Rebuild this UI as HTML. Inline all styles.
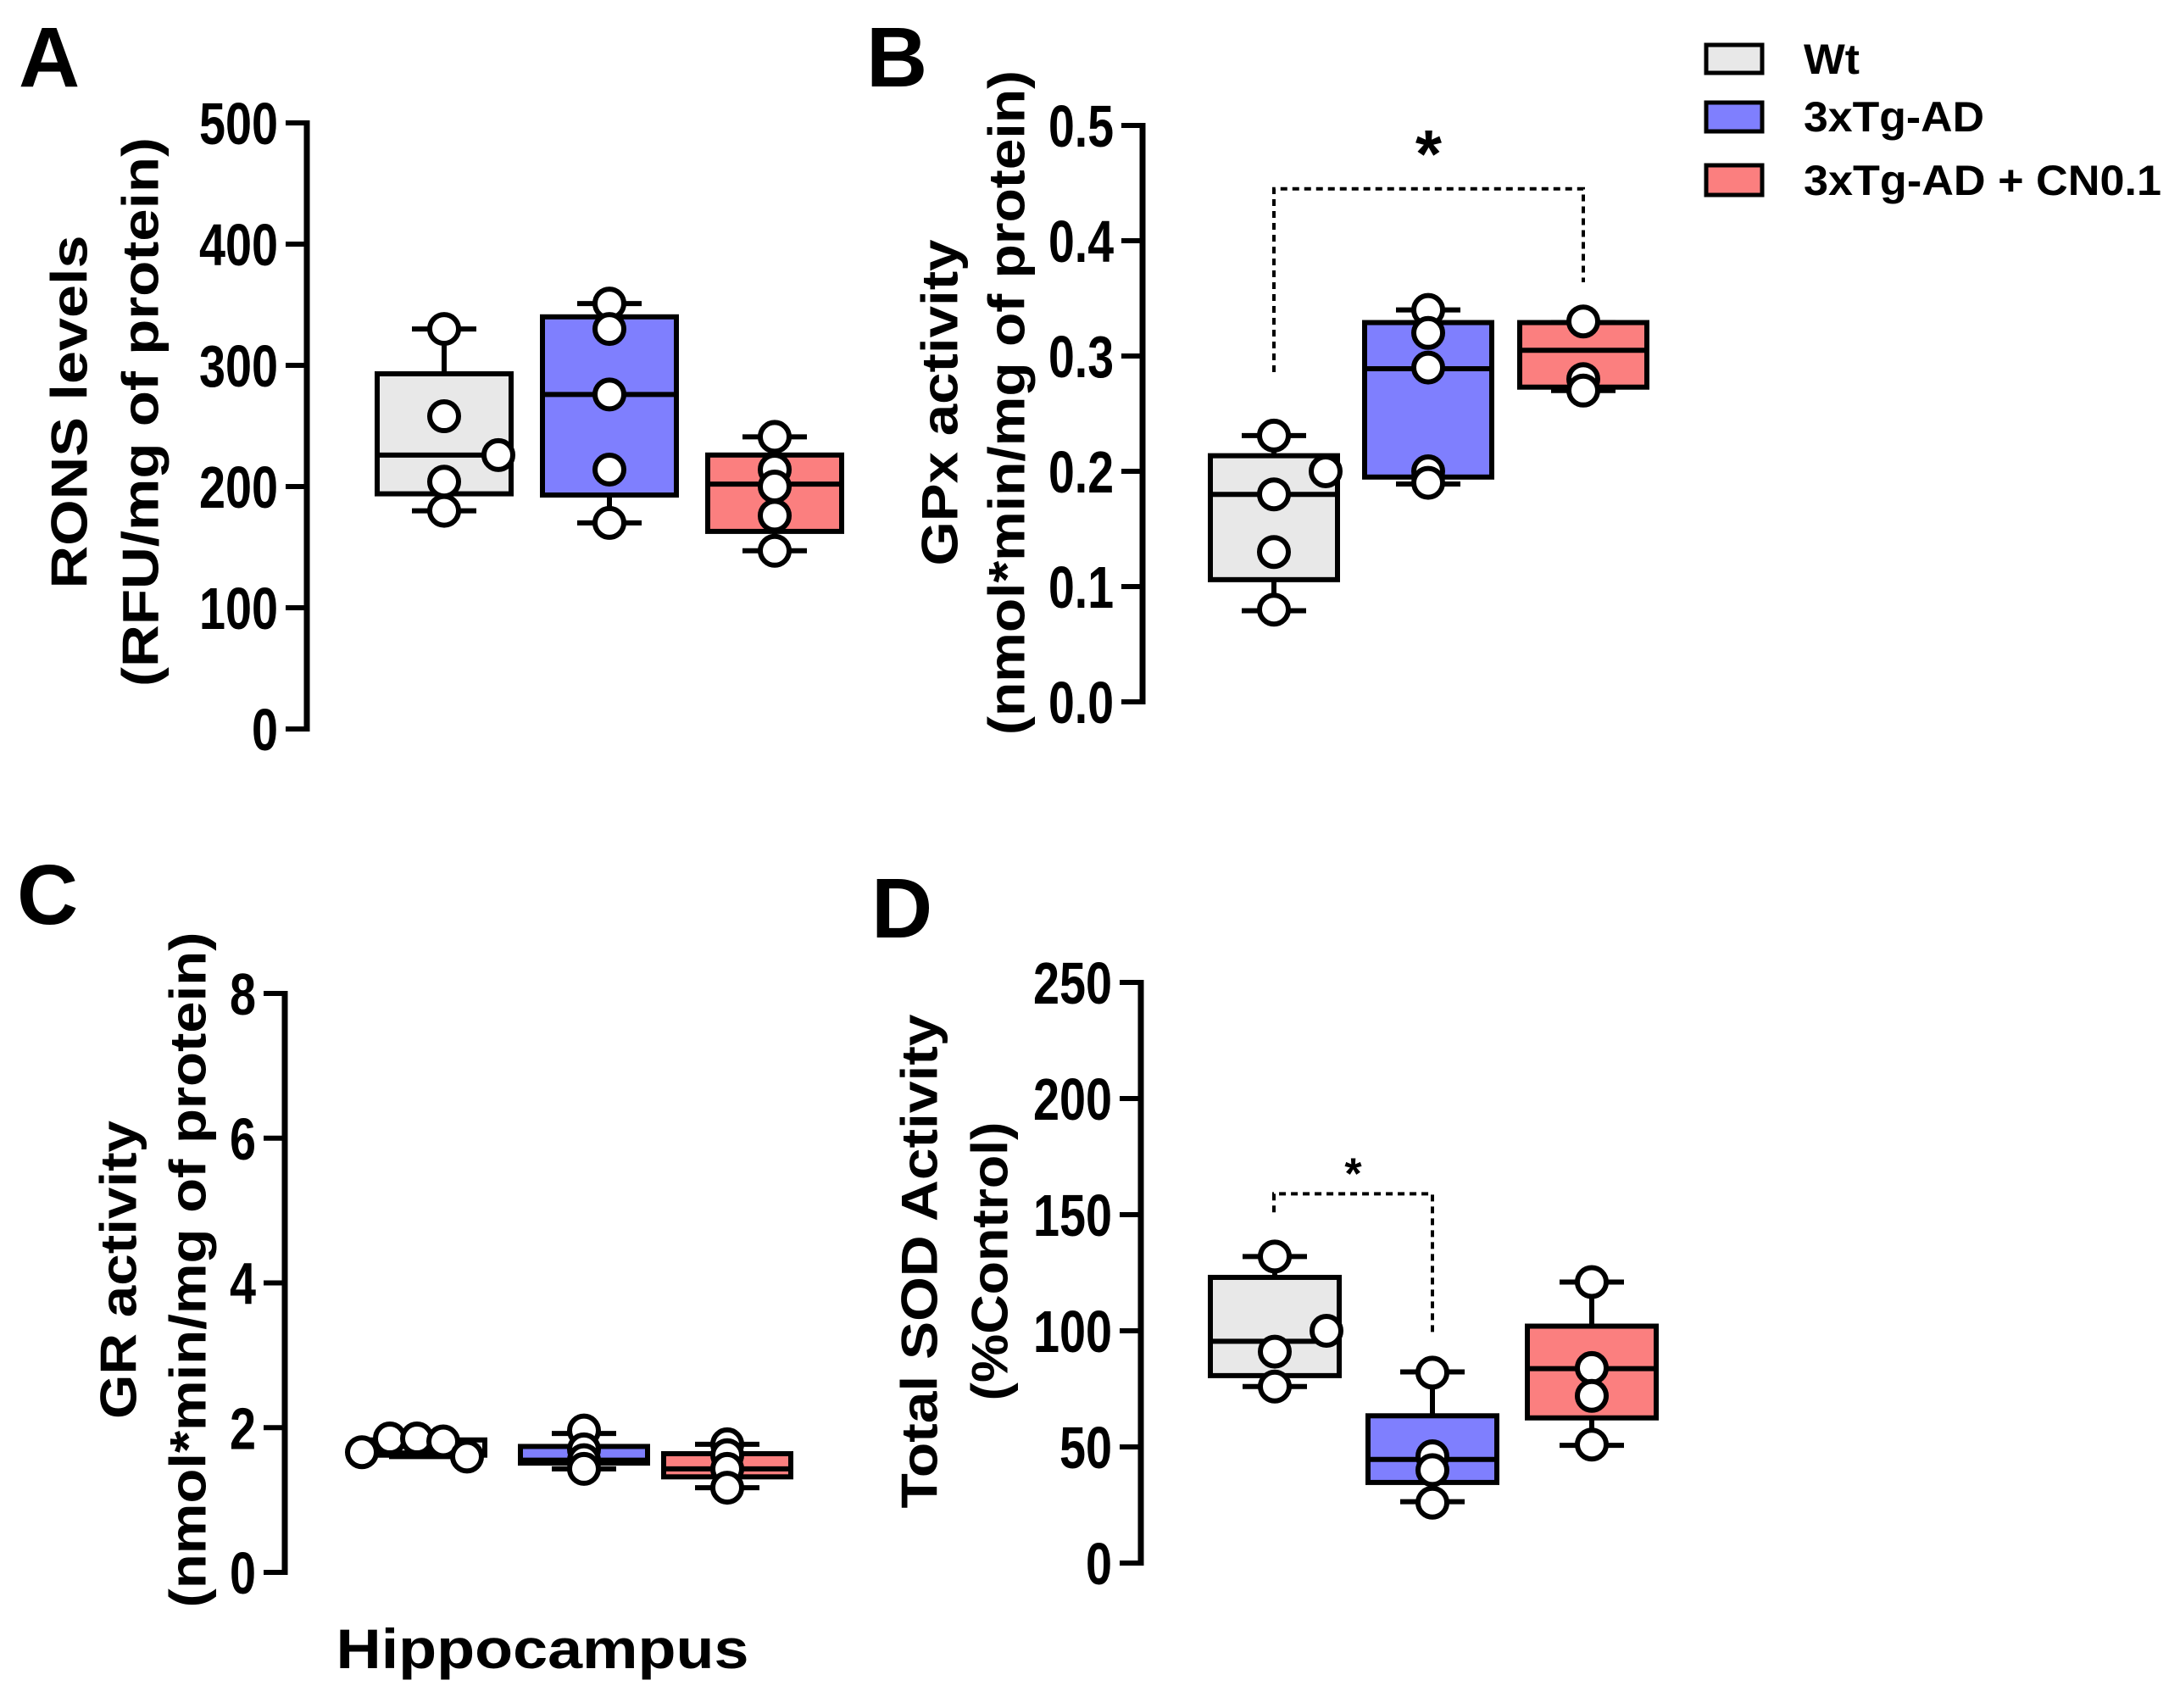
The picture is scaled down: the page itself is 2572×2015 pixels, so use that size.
<!DOCTYPE html>
<html><head><meta charset="utf-8"><style>
html,body{margin:0;padding:0;background:#fff;}
svg{display:block;font-family:"Liberation Sans",Arial,sans-serif;font-weight:bold;}
</style></head><body>
<svg id="fig" width="2572" height="2015" viewBox="0 0 2572 2015" xmlns="http://www.w3.org/2000/svg">
<rect width="2572" height="2015" fill="#fff"/>
<text x="22" y="102" font-size="100">A</text>
<text x="1022" y="102" font-size="100">B</text>
<text x="20" y="1090" font-size="100">C</text>
<text x="1028" y="1106" font-size="100">D</text>
<g>
<rect x="2013" y="53" width="66" height="33" fill="#e8e8e8" stroke="#000" stroke-width="5"/>
<text x="2128" y="87" font-size="50" textLength="66" lengthAdjust="spacingAndGlyphs">Wt</text>
<rect x="2013" y="121" width="66" height="34" fill="#7f7ffe" stroke="#000" stroke-width="5"/>
<text x="2128" y="155" font-size="50" textLength="213" lengthAdjust="spacingAndGlyphs">3xTg-AD</text>
<rect x="2013" y="195" width="66" height="35" fill="#fb7f7f" stroke="#000" stroke-width="5"/>
<text x="2128" y="230" font-size="50" textLength="422" lengthAdjust="spacingAndGlyphs">3xTg-AD + CN0.1</text>
</g>
<text x="640" y="1968" font-size="66" text-anchor="middle" textLength="487" lengthAdjust="spacingAndGlyphs">Hippocampus</text>
</svg>
<script>
const groups = ["Wt","3xTg-AD","3xTg-AD + CN0.1"];
// Panel A: RONS levels
const aQ1 = [194,193,163];
const aMed = [226,276,202];
const aQ3 = [293,340,226];
const aMin = [180,170,147];
const aMax = [330,351,241];
const aPts = [[330,258,226,204,180],[351,330,276,214,170],[241,214,200,176,147]];
const aTicks = [0,100,200,300,400,500];
// Panel B: GPx activity
const bQ1 = [0.106,0.195,0.273];
const bMed = [0.18,0.289,0.305];
const bQ3 = [0.2135,0.329,0.329];
const bMin = [0.079,0.189,0.270];
const bMax = [0.231,0.340,0.329];
const bPts = [[0.231,0.20,0.18,0.13,0.08],[0.34,0.32,0.29,0.20,0.19],[0.33,0.28,0.27]];
const bTicks = ["0.0","0.1","0.2","0.3","0.4","0.5"];
// Panel C: GR activity
const cQ1 = [1.62,1.51,1.32];
const cMed = [1.65,1.55,1.43];
const cQ3 = [1.83,1.74,1.64];
const cMin = [1.6,1.43,1.17];
const cMax = [1.85,1.92,1.77];
const cPts = [[1.66,1.85,1.85,1.81,1.6],[1.96,1.70,1.55,1.43],[1.77,1.62,1.43,1.17]];
const cTicks = [0,2,4,6,8];
// Panel D: Total SOD activity
const dQ1 = [80.7,34.7,62.5];
const dMed = [95.5,44.6,83.7];
const dQ3 = [123,63.4,102];
const dMin = [76,26.4,50.7];
const dMax = [132,82.3,121];
const dPts = [[132,100,91,76],[82,46,40,26],[121,84,72,51]];
const dTicks = [0,50,100,150,200,250];

const fills = ["#e8e8e8","#7f7ffe","#fb7f7f"];
const NS = "http://www.w3.org/2000/svg";
const svg = document.getElementById("fig");
function mk(tag, attrs, parent){
  const e = document.createElementNS(NS, tag);
  for (const k in attrs) e.setAttribute(k, attrs[k]);
  (parent||svg).appendChild(e);
  return e;
}
function panel(id, geo, ticks, tickMax, q1, med, q3, mn, mx, pts, jit, t1, t2){
  const g = mk("g", {});
  
  
  const y = v => geo.y0 - (v / tickMax) * (geo.y0 - geo.yTop);
  const ax = mk("line", {x1:geo.ax, x2:geo.ax, y1:geo.yTop-3, y2:geo.y0+3, stroke:"#000","stroke-width":7}, g);
  
  
  ticks.forEach(t => {
    const v = parseFloat(t);
    const tk = mk("line", {x1:geo.ax-25, x2:geo.ax, y1:y(v), y2:y(v), stroke:"#000","stroke-width":6}, g);
    
    
    const s = String(t);
    let w = 0; for (const ch of s) w += (ch === "." ? 15 : 31);
    const tl = mk("text", {x:geo.ax-34, y:y(v)+25, "font-size":70, "text-anchor":"end", textLength:w, lengthAdjust:"spacingAndGlyphs"}, g);
    tl.textContent = s;
    
    
  });
  [[t1, geo.t1x, geo.t1len],[t2, geo.t2x, geo.t2len]].forEach(([txt, x, len], i) => {
    const tt = mk("text", {x:0, y:0, "font-size":60, "text-anchor":"middle", "dominant-baseline":"central", textLength:len, lengthAdjust:"spacingAndGlyphs", transform:`translate(${x},${geo.tcy}) rotate(-90)`}, g);
    tt.textContent = txt;
    
    
  });
  for (let i = 0; i < 3; i++) {
    const cx = geo.cx[i], hw = geo.bw/2;
    const wg = mk("g", {}, g);
    
    
    mk("line", {x1:cx, x2:cx, y1:y(q3[i]), y2:y(mx[i]), stroke:"#000","stroke-width":6}, wg);
    mk("line", {x1:cx, x2:cx, y1:y(q1[i]), y2:y(mn[i]), stroke:"#000","stroke-width":6}, wg);
    mk("line", {x1:cx-38, x2:cx+38, y1:y(mx[i]), y2:y(mx[i]), stroke:"#000","stroke-width":6}, wg);
    mk("line", {x1:cx-38, x2:cx+38, y1:y(mn[i]), y2:y(mn[i]), stroke:"#000","stroke-width":6}, wg);
    const b = mk("rect", {x:cx-hw, y:y(q3[i]), width:geo.bw, height:y(q1[i])-y(q3[i]), fill:fills[i], stroke:"#000","stroke-width":6}, g);
    
    
    const m = mk("line", {x1:cx-hw, x2:cx+hw, y1:y(med[i]), y2:y(med[i]), stroke:"#000","stroke-width":6}, g);
    
    
  }
  for (let i = 0; i < 3; i++) {
    pts[i].forEach((v, j) => {
      const off = (jit[i] && jit[i][j]) || 0;
      const c = mk("circle", {cx:geo.cx[i]+off, cy:y(v), r:17, fill:"#fff", stroke:"#000","stroke-width":6}, g);
      
      
    });
  }
  return {g, y};
}
panel("panel-a-rons", {ax:362,y0:860,yTop:145,cx:[524,719,914],bw:158,t1x:82,t1len:417,t2x:166,t2len:648,tcy:486},
  aTicks, 500, aQ1, aMed, aQ3, aMin, aMax, aPts, [[0,0,64,0,0],[],[]], "RONS levels", "(RFU/mg of protein)");
const pb = panel("panel-b-gpx", {ax:1348,y0:828,yTop:148,cx:[1503,1685,1868],bw:150,t1x:1109,t1len:385,t2x:1188,t2len:784,tcy:475},
  bTicks, 0.5, bQ1, bMed, bQ3, bMin, bMax, bPts, [[0,61,0,0,0],[],[]], "GPx activity", "(nmol*min/mg of protein)");
panel("panel-c-gr", {ax:336,y0:1855,yTop:1172,cx:[497,689,858],bw:150,t1x:140,t1len:352,t2x:222,t2len:797,tcy:1498},
  cTicks, 8, cQ1, cMed, cQ3, cMin, cMax, cPts, [[-70,-37,-5,26,54],[],[]], "GR activity", "(nmol*min/mg of protein)");
const pd = panel("panel-d-sod", {ax:1346,y0:1844,yTop:1159,cx:[1504,1690,1878],bw:152,t1x:1085,t1len:583,t2x:1168,t2len:329,tcy:1488},
  dTicks, 250, dQ1, dMed, dQ3, dMin, dMax, dPts, [[0,61,0,0],[],[]], "Total SOD Activity", "(%Control)");

const sigB = [0.445, 0.286, 0.364];
const sigD = [159, 151, 99.5];
function bracket(p, x1, x2, vals, starSize, starY, name){
  const g = mk("g", {}, p.g);
  
  
  const d = `M${x1},${p.y(vals[1])} L${x1},${p.y(vals[0])} L${x2},${p.y(vals[0])} L${x2},${p.y(vals[2])}`;
  mk("path", {d, fill:"none", stroke:"#000","stroke-width":4,"stroke-dasharray":"8 6"}, g);
  const s = mk("text", {x:(x1+x2)/2, y:p.y(vals[0]) - starY, "font-size":starSize, "text-anchor":"middle"}, g);
  s.textContent = "*";
  
  
}
bracket(pb, 1503, 1868, sigB, 80, 14, "significance-bracket-b");
bracket(pd, 1503, 1690, sigD, 52, 6, "significance-bracket-d");
</script>
</body></html>
